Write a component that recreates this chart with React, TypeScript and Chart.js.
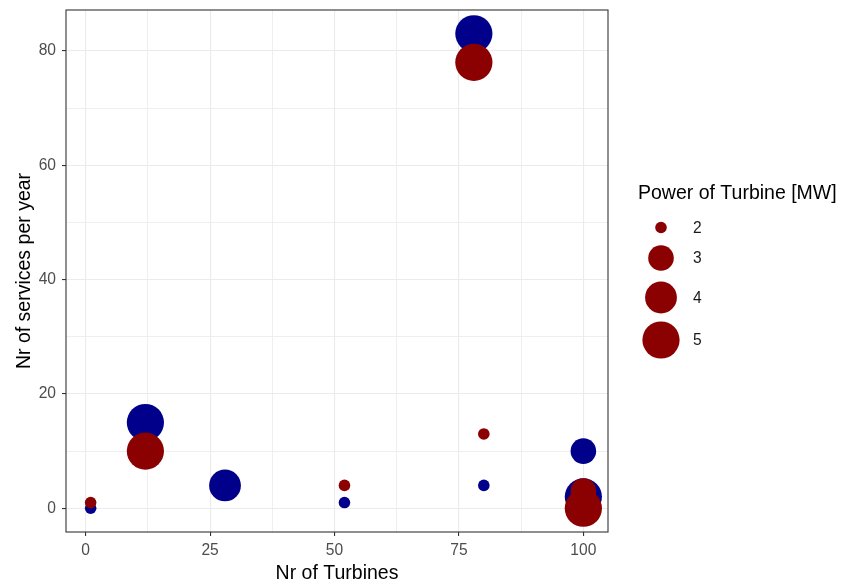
import React, { useEffect, useRef } from "react";
import { Chart, registerables } from "chart.js";

Chart.register(...registerables);

const FONT = "'Liberation Sans', Arial, Helvetica, sans-serif";

// Service visits per year against wind farm size, two farm groups
const blueTurbines = [1, 12, 28, 52, 78, 80, 100, 100];
const blueServices = [0, 15, 4, 1, 83, 4, 10, 2];
const bluePower = [2, 5, 4, 2, 5, 2, 3, 5];

const redTurbines = [1, 12, 52, 78, 80, 100, 100];
const redServices = [1, 10, 4, 78, 13, 3, 0];
const redPower = [2, 5, 2, 5, 2, 3, 5];

const legendPowers = [2, 3, 4, 5];
const xTickValues = [0, 25, 50, 75, 100];
const yTickValues = [0, 20, 40, 60, 80];

const BLUE = "#00008B";
const RED = "#8B0000";

// point radius (px) for each turbine power rating
const radiusByPower: Record<number, number> = { 2: 5.8, 3: 12.8, 4: 15.9, 5: 18.6 };

// major ticks plus the midpoints between them (minor grid)
function withMinor(major: number[]): number[] {
  const out: number[] = [];
  major.forEach((v, i) => {
    out.push(v);
    if (i < major.length - 1) out.push((v + major[i + 1]) / 2);
  });
  return out;
}

// 5% expansion of the data range on each side
function expanded(values: number[]): [number, number] {
  const lo = Math.min(...values);
  const hi = Math.max(...values);
  const pad = (hi - lo) * 0.05;
  return [lo - pad, hi + pad];
}

const xGrid = withMinor(xTickValues);
const yGrid = withMinor(yTickValues);
const [xMin, xMax] = expanded([...blueTurbines, ...redTurbines]);
const [yMin, yMax] = expanded([...blueServices, ...redServices]);

const panelDecor = {
  id: "panelDecor",
  afterDatasetsDraw(chart: any) {
    const { ctx, chartArea: a } = chart;
    ctx.save();
    // panel border
    ctx.strokeStyle = "#333333";
    ctx.lineWidth = 1.1;
    ctx.strokeRect(a.left, a.top, a.right - a.left, a.bottom - a.top);

    // axis titles
    ctx.fillStyle = "#000000";
    ctx.font = `19.5px ${FONT}`;
    ctx.textAlign = "center";
    ctx.textBaseline = "alphabetic";
    ctx.fillText("Nr of Turbines", (a.left + a.right) / 2, 579);
    ctx.save();
    ctx.translate(30, (a.top + a.bottom) / 2);
    ctx.rotate(-Math.PI / 2);
    ctx.fillText("Nr of services per year", 0, 0);
    ctx.restore();

    // size legend
    ctx.textAlign = "left";
    ctx.fillText("Power of Turbine [MW]", 638, 199);
    const keyY = [227.5, 258, 297.5, 340];
    ctx.font = `15.6px ${FONT}`;
    ctx.textBaseline = "middle";
    legendPowers.forEach((p, i) => {
      ctx.fillStyle = RED;
      ctx.beginPath();
      ctx.arc(661, keyY[i], radiusByPower[p], 0, Math.PI * 2);
      ctx.fill();
      ctx.fillStyle = "#1A1A1A";
      ctx.fillText(String(p), 693, keyY[i] + 1);
    });
    ctx.restore();
  },
};

function gridStyle(major: number[]) {
  return {
    color: "#EBEBEB",
    lineWidth: (c: any) => (major.includes(c.tick?.value) ? 1.1 : 0.8),
    tickColor: (c: any) => (major.includes(c.tick?.value) ? "#333333" : "rgba(0,0,0,0)"),
    tickWidth: 1.1,
    tickLength: 4,
    drawTicks: true,
  };
}

export default function App() {
  const canvasRef = useRef<HTMLCanvasElement | null>(null);

  useEffect(() => {
    const canvas = canvasRef.current;
    if (!canvas) return;
    const chart = new Chart(canvas, {
      type: "scatter",
      data: {
        datasets: [
          {
            label: "red",
            data: redTurbines.map((x, i) => ({ x, y: redServices[i] })),
            backgroundColor: RED,
            borderWidth: 0,
            pointRadius: (c: any) => radiusByPower[redPower[c.dataIndex]],
            pointHoverRadius: (c: any) => radiusByPower[redPower[c.dataIndex]],
          },
          {
            label: "blue",
            data: blueTurbines.map((x, i) => ({ x, y: blueServices[i] })),
            backgroundColor: BLUE,
            borderWidth: 0,
            pointRadius: (c: any) => radiusByPower[bluePower[c.dataIndex]],
            pointHoverRadius: (c: any) => radiusByPower[bluePower[c.dataIndex]],
          },
        ],
      },
      options: {
        animation: false,
        responsive: false,
        maintainAspectRatio: false,
        layout: { autoPadding: false, padding: { left: 0, top: 10, right: 234, bottom: 0 } },
        plugins: { legend: { display: false }, tooltip: { enabled: false } },
        scales: {
          x: {
            type: "linear",
            min: xMin,
            max: xMax,
            afterBuildTicks: (s: any) => {
              s.ticks = xGrid.map((v) => ({ value: v }));
            },
            afterFit: (s: any) => {
              s.height = 52;
              s.paddingLeft = 0;
              s.paddingRight = 0;
            },
            grid: gridStyle(xTickValues),
            border: { display: false },
            ticks: {
              autoSkip: false,
              maxRotation: 0,
              padding: 5,
              color: "#4D4D4D",
              font: { family: FONT, size: 15.6 },
              callback: (v: any) => (xTickValues.includes(v) ? String(v) : ""),
            },
          },
          y: {
            type: "linear",
            min: yMin,
            max: yMax,
            afterBuildTicks: (s: any) => {
              s.ticks = yGrid.map((v) => ({ value: v }));
            },
            afterFit: (s: any) => {
              s.width = 66;
              s.paddingTop = 0;
              s.paddingBottom = 0;
            },
            grid: gridStyle(yTickValues),
            border: { display: false },
            ticks: {
              autoSkip: false,
              padding: 6,
              color: "#4D4D4D",
              font: { family: FONT, size: 15.6 },
              callback: (v: any) => (yTickValues.includes(v) ? String(v) : ""),
            },
          },
        },
      },
      plugins: [panelDecor],
    });
    return () => chart.destroy();
  }, []);

  return (
    <div
      style={{
        position: "fixed",
        left: 0,
        top: 0,
        width: 842,
        height: 584,
        background: "#FFFFFF",
      }}
    >
      <canvas ref={canvasRef} width={842} height={584} style={{ display: "block" }} />
    </div>
  );
}
